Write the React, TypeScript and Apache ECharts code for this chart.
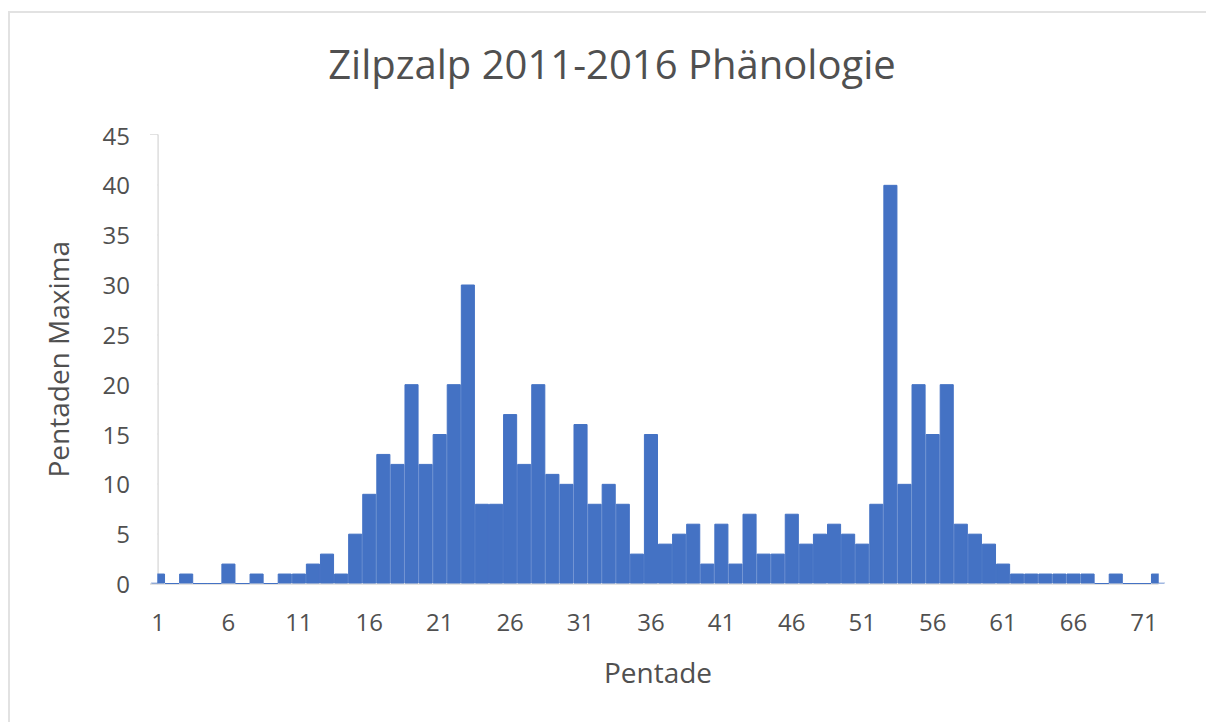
import React, { useEffect, useRef } from "react";
import * as echarts from "echarts";

const TITLE = "Zilpzalp 2011-2016 Phänologie";
const X_TITLE = "Pentade";
const Y_TITLE = "Pentaden Maxima";

const pentades: string[] = Array.from({ length: 72 }, (_, i) => String(i + 1));

const maxima: number[] = [
  1, 0, 1, 0, 0, 2, 0, 1, 0, 1,
  1, 2, 3, 1, 5, 9, 13, 12, 20, 12,
  15, 20, 30, 8, 8, 17, 12, 20, 11, 10,
  16, 8, 10, 8, 3, 15, 4, 5, 6, 2,
  6, 2, 7, 3, 3, 7, 4, 5, 6, 5,
  4, 8, 40, 10, 20, 15, 20, 6, 5, 4,
  2, 1, 1, 1, 1, 1, 1, 0, 1, 0,
  0, 1,
];

const FONT = "'Open Sans', 'Noto Sans', sans-serif";
const TEXT = "#505050";
const AXIS = "#d9d9d9";
const BAR = "#4472c4";

const W = 1206;
const H = 722;
const GRID = { left: 158, right: 48, top: 135, bottom: 138.5 };

export default function App() {
  const ref = useRef<HTMLDivElement>(null);

  useEffect(() => {
    if (!ref.current) return;
    const chart = echarts.init(ref.current, undefined, { renderer: "svg" });
    const plotL = GRID.left;
    const plotR = W - GRID.right;
    const plotT = GRID.top;
    const plotB = H - GRID.bottom;
    chart.setOption({
      animation: false,
      backgroundColor: "#ffffff",
      textStyle: { fontFamily: FONT },
      title: {
        text: TITLE,
        left: 607,
        top: 38,
        textAlign: "center",
        textStyle: { fontFamily: FONT, fontSize: 40, fontWeight: "normal", color: TEXT },
      },
      graphic: [
        {
          type: "rect",
          shape: { x: 9, y: 12, width: 1260, height: 780 },
          style: { fill: "none", stroke: "#e2e2e2", lineWidth: 2 },
          silent: true,
          z: 0,
        },
        // masks: clip half-bars at the plot edges (bars sit on tick marks)
        {
          type: "rect",
          shape: { x: plotL - 20, y: plotT, width: 20 - 0.75, height: plotB - plotT - 0.8 },
          style: { fill: "#ffffff" },
          silent: true,
          z: 10,
        },
        {
          type: "rect",
          shape: { x: plotR + 0.75, y: plotT, width: 30, height: plotB - plotT - 0.8 },
          style: { fill: "#ffffff" },
          silent: true,
          z: 10,
        },
      ],
      grid: { ...GRID, containLabel: false },
      xAxis: {
        type: "category",
        data: pentades,
        boundaryGap: false,
        name: X_TITLE,
        nameLocation: "middle",
        nameGap: 74,
        nameTextStyle: { fontFamily: FONT, fontSize: 28, color: TEXT },
        axisLine: { show: true, lineStyle: { color: AXIS, width: 1.5 } },
        axisTick: { show: false },
        axisLabel: {
          interval: 4,
          margin: 26,
          fontFamily: FONT,
          fontSize: 24,
          color: TEXT,
        },
        splitLine: { show: false },
      },
      yAxis: {
        type: "value",
        min: 0,
        max: 45,
        interval: 5,
        name: Y_TITLE,
        nameLocation: "middle",
        nameRotate: 90,
        nameGap: 86,
        nameTextStyle: { fontFamily: FONT, fontSize: 28, color: TEXT },
        axisLine: { show: true, lineStyle: { color: AXIS, width: 1.5 } },
        axisTick: { show: true, length: 8, inside: false, lineStyle: { color: AXIS, width: 1.5 } },
        axisLabel: { margin: 28, fontFamily: FONT, fontSize: 24, color: TEXT },
        splitLine: { show: false },
      },
      series: [
        {
          type: "bar",
          data: maxima,
          barCategoryGap: "0%",
          clip: true,
          itemStyle: { color: BAR, borderColor: BAR, borderWidth: 1 },
        },
      ],
    });
    return () => chart.dispose();
  }, []);

  return (
    <div
      ref={ref}
      style={{ position: "fixed", left: 0, top: 0, width: W, height: H }}
    />
  );
}
